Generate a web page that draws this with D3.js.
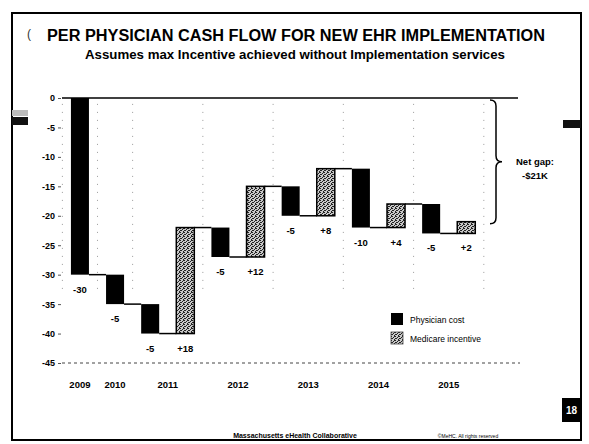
<!DOCTYPE html>
<html>
<head>
<meta charset="utf-8">
<script src="https://cdn.jsdelivr.net/npm/d3@7"></script>
<style>
  html, body { margin: 0; padding: 0; background: #fff; }
  svg { display: block; font-family: "Liberation Sans", Arial, sans-serif; }
</style>
</head>
<body>
<svg id="chart" width="589" height="444"></svg>
<script>
// ---- data ----
const years = ["2009", "2010", "2011", "2012", "2013", "2014", "2015"];
const barYears = ["2009", "2010", "2011", "2011", "2012", "2012", "2013", "2013", "2014", "2014", "2015", "2015"];
const barTypes = ["cost", "cost", "cost", "incentive", "cost", "incentive", "cost", "incentive", "cost", "incentive", "cost", "incentive"];
const barValues = [-30, -5, -5, 18, -5, 12, -5, 8, -10, 4, -5, 2];
const yTicks = [0, -5, -10, -15, -20, -25, -30, -35, -40, -45];
const seriesKeys = ["cost", "incentive"];
const seriesNames = ["Physician cost", "Medicare incentive"];
const netGapText = ["Net gap:", "-$21K"];
const titleText = "PER PHYSICIAN CASH FLOW FOR NEW EHR IMPLEMENTATION";
const subtitleText = "Assumes max Incentive achieved without Implementation services";
const footerText = "Massachusetts eHealth Collaborative";
const copyrightText = "©MeHC. All rights reserved";
const pageNumber = "18";

(function () {
// ---- derived waterfall ----
let run = 0;
const bars = barValues.map((v, i) => {
  const start = run; run += v;
  return { i, year: barYears[i], type: barTypes[i], value: v, start, end: run };
});

const svg = d3.select("#chart");

// pattern for Medicare incentive
const defs = svg.append("defs");
const pat = defs.append("pattern").attr("id", "hatch")
  .attr("width", 4).attr("height", 4).attr("patternUnits", "userSpaceOnUse");
pat.append("rect").attr("width", 4).attr("height", 4).attr("fill", "#c8c8c8");
[[0,0],[2,1],[1,2],[3,3],[3,0],[0,2]].forEach(([px,py]) =>
  pat.append("rect").attr("x", px).attr("y", py).attr("width", 1).attr("height", 1).attr("fill", "#222"));

// slide frame
svg.append("rect").attr("x", 12).attr("y", 13).attr("width", 569).attr("height", 427)
  .attr("fill", "none").attr("stroke", "#000").attr("stroke-width", 2);

// scan artefacts on frame edges
svg.append("rect").attr("x", 12).attr("y", 117).attr("width", 16).attr("height", 8).attr("fill", "#111");
svg.append("rect").attr("x", 12).attr("y", 110).attr("width", 16).attr("height", 6).attr("fill", "#bbb");
svg.append("rect").attr("x", 563).attr("y", 120).attr("width", 18).attr("height", 8).attr("fill", "#111");
svg.append("text").attr("x", 27).attr("y", 38).attr("font-size", 12).attr("fill", "#333").text("(");

// titles
svg.append("text").attr("x", 47).attr("y", 41)
  .attr("font-size", 16).attr("font-weight", "bold")
  .attr("textLength", 498).attr("lengthAdjust", "spacingAndGlyphs").text(titleText);
svg.append("text").attr("x", 85).attr("y", 59)
  .attr("font-size", 12.5).attr("font-weight", "bold")
  .attr("textLength", 420).attr("lengthAdjust", "spacingAndGlyphs").text(subtitleText);

// scales
const x = d3.scaleBand().domain(d3.range(barValues.length))
  .range([62.5, 483.7]).paddingInner(0.487).paddingOuter(0.24);
const y = d3.scaleLinear().domain([0, -45]).range([98, 363]);
const bw = x.bandwidth();
const step = x.step();

// dotted year separators
const sepIdx = [];
bars.forEach((b, i) => { if (i === 0 || b.year !== bars[i - 1].year) sepIdx.push(i); });
const sepX = sepIdx.map(i => x(i) - (step - bw) / 2).concat([x(bars.length - 1) + bw + (step - bw) / 2]);
svg.append("g").selectAll("line").data(sepX).join("line")
  .attr("x1", d => d).attr("x2", d => d)
  .attr("y1", y(-1)).attr("y2", y(-33))
  .attr("stroke", "#999").attr("stroke-width", 1).attr("stroke-dasharray", "1,7");

// y axis
const yAxis = svg.append("g").attr("transform", "translate(61,0)")
  .call(d3.axisLeft(y).tickValues(yTicks).tickSize(3).tickPadding(3).tickFormat(d => d));
yAxis.select(".domain").remove();
yAxis.selectAll(".tick line").attr("stroke", "#555");
yAxis.selectAll("text").attr("font-size", 9).attr("font-weight", "bold")
  .attr("font-family", "'Liberation Sans', Arial, sans-serif").attr("fill", "#000");

// zero line and bottom dotted line
svg.append("line").attr("x1", 62).attr("x2", 518).attr("y1", y(0)).attr("y2", y(0))
  .attr("stroke", "#000").attr("stroke-width", 1.5);
svg.append("line").attr("x1", 62).attr("x2", 520).attr("y1", y(-45)).attr("y2", y(-45))
  .attr("stroke", "#444").attr("stroke-width", 1).attr("stroke-dasharray", "3,3");

// connectors
svg.append("g").selectAll("line").data(bars.slice(0, -1)).join("line")
  .attr("x1", d => x(d.i) + bw).attr("x2", d => x(d.i + 1))
  .attr("y1", d => y(d.end)).attr("y2", d => y(d.end))
  .attr("stroke", "#000").attr("stroke-width", 1.5);

// bars
svg.append("g").selectAll("rect").data(bars).join("rect")
  .attr("x", d => x(d.i)).attr("width", bw)
  .attr("y", d => y(Math.max(d.start, d.end)))
  .attr("height", d => Math.abs(y(d.start) - y(d.end)))
  .attr("fill", d => d.type === "cost" ? "#000" : "url(#hatch)")
  .attr("stroke", "#000").attr("stroke-width", d => d.type === "cost" ? 0 : 1.5);

// value labels: per year, below lowest point
const yearMin = {};
bars.forEach(b => { yearMin[b.year] = Math.min(yearMin[b.year] ?? 0, b.start, b.end); });
svg.append("g").selectAll("text").data(bars).join("text")
  .attr("x", d => x(d.i) + bw / 2).attr("y", d => y(yearMin[d.year]) + 18)
  .attr("text-anchor", "middle").attr("font-size", 9.5).attr("font-weight", "bold")
  .text(d => (d.value > 0 ? "+" : "") + d.value);

// year labels
svg.append("g").selectAll("text").data(years).join("text")
  .attr("x", yr => {
    const idx = bars.filter(b => b.year === yr).map(b => b.i);
    return (x(d3.min(idx)) + x(d3.max(idx)) + bw) / 2;
  })
  .attr("y", 388).attr("text-anchor", "middle").attr("font-size", 9.5).attr("font-weight", "bold")
  .text(d => d);

// brace
const bTop = y(0) + 2, bBot = y(run) + 2, bMid = (bTop + bBot) / 2, bx = 496;
svg.append("path")
  .attr("d", `M${bx - 6},${bTop} Q${bx},${bTop} ${bx},${bTop + 6} L${bx},${bMid - 6} Q${bx},${bMid} ${bx + 6},${bMid} Q${bx},${bMid} ${bx},${bMid + 6} L${bx},${bBot - 6} Q${bx},${bBot} ${bx - 6},${bBot}`)
  .attr("fill", "none").attr("stroke", "#000").attr("stroke-width", 1.5);
svg.append("g").selectAll("text").data(netGapText).join("text")
  .attr("x", 535).attr("y", (d, i) => bMid + 3 + i * 14).attr("text-anchor", "middle")
  .attr("font-size", 9.5).attr("font-weight", "bold").text(d => d);

// legend
const lg = svg.append("g").selectAll("g").data(seriesKeys).join("g")
  .attr("transform", (d, i) => `translate(391,${313 + i * 19})`);
lg.append("rect").attr("width", 12).attr("height", 12)
  .attr("fill", d => d === "cost" ? "#000" : "url(#hatch)")
  .attr("stroke", d => d === "cost" ? "none" : "#444").attr("stroke-width", 0.8);
lg.append("text").attr("x", 19).attr("y", 9.5).attr("font-size", 8.5)
  .text((d, i) => seriesNames[i]);

// footer
svg.append("text").attr("x", 295).attr("y", 438).attr("text-anchor", "middle").attr("fill", "#000")
  .attr("font-size", 7).attr("font-weight", "bold").text(footerText);
svg.append("text").attr("x", 468).attr("y", 438).attr("text-anchor", "middle").attr("fill", "#000")
  .attr("font-size", 5).text(copyrightText);
svg.append("rect").attr("x", 562).attr("y", 398).attr("width", 19).attr("height", 24).attr("fill", "#000");
svg.append("text").attr("x", 571.5).attr("y", 414).attr("text-anchor", "middle")
  .attr("font-size", 10).attr("font-weight", "bold").attr("fill", "#fff").text(pageNumber);
})();
</script>
</body>
</html>
